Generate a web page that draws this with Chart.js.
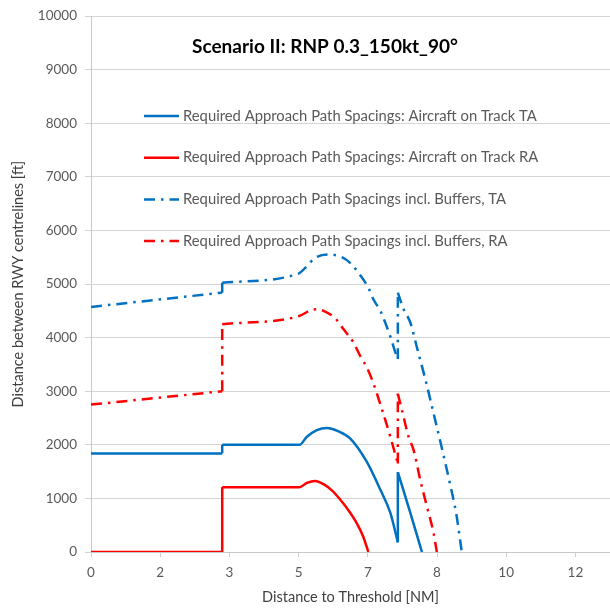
<!DOCTYPE html>
<html>
<head>
<meta charset="utf-8">
<script src="https://cdn.jsdelivr.net/npm/chart.js@4/dist/chart.umd.min.js"></script>
<style>
  html, body { margin: 0; padding: 0; background: #fff; }
  #wrap { width: 610px; height: 613px; }
</style>
</head>
<body>
<div id="wrap"><canvas id="spacingChart" width="610" height="613"></canvas></div>
<script>
// Values (x in NM, y in ft)
const chartTitle = 'Scenario II: RNP 0.3_150kt_90°';

const taTrackX = [0, 3.16, 3.16, 5.02, 5.20, 5.44, 5.68, 5.95, 6.24, 6.64, 6.97, 7.21, 7.39, 7.39, 7.68, 7.97];
const taTrackY = [1840, 1840, 2000, 2000, 2150, 2275, 2315, 2255, 2120, 1685, 1160, 730, 180, 1490, 760, 0];

const raTrackX = [0, 3.16, 3.16, 5.02, 5.20, 5.40, 5.60, 5.80, 6.00, 6.20, 6.40, 6.55, 6.68];
const raTrackY = [0, 0, 1210, 1210, 1290, 1327, 1265, 1150, 980, 780, 540, 300, 0];

const taBufX = [0, 3.16, 3.16, 5.00, 5.16, 5.40, 5.72, 6.04, 6.24, 6.47, 6.68, 6.80, 6.97, 7.10, 7.21, 7.33, 7.39,
                7.39, 7.53, 7.69, 7.87, 8.05, 8.25, 8.45, 8.65, 8.80, 8.93];
const taBufY = [4573, 4840, 5025, 5195, 5302, 5488, 5551, 5501, 5395, 5180, 4931, 4716, 4499, 4252, 4020, 3725, 3600,
                4840, 4530, 4282, 3757, 3232, 2590, 1940, 1260, 700, 0];

const raBufX = [0, 3.16, 3.16, 5.00, 5.32, 5.45, 5.60, 5.88, 6.08, 6.32, 6.48, 6.66, 6.80, 7.00, 7.21, 7.39,
                7.39, 7.49, 7.65, 7.77, 7.93, 8.09, 8.25, 8.33];
const raBufY = [2750, 3000, 4250, 4400, 4518, 4530, 4499, 4363, 4159, 3911, 3664, 3417, 3150, 2680, 2148, 1650,
                2954, 2644, 2148, 1902, 1345, 850, 356, 0];

const seriesLabels = [
    'Required Approach Path Spacings: Aircraft on Track TA',
    'Required Approach Path Spacings: Aircraft on Track RA',
    'Required Approach Path Spacings incl. Buffers, TA',
    'Required Approach Path Spacings incl. Buffers, RA'
];

const xTickStep = 5 / 3;   // grid spacing on the distance axis
const xMax = 12.5;
const yMax = 10000;

const blue = '#0070C0';
const red = '#FF0000';
const dashDot = [11, 6, 2.5, 6];

const series = [
    { label: seriesLabels[0], xs: taTrackX, ys: taTrackY, color: blue, dash: [] },
    { label: seriesLabels[1], xs: raTrackX, ys: raTrackY, color: red, dash: [] },
    { label: seriesLabels[2], xs: taBufX, ys: taBufY, color: blue, dash: dashDot },
    { label: seriesLabels[3], xs: raBufX, ys: raBufY, color: red, dash: dashDot }
];

// cut a series at its vertical jumps so the smooth curve doesn't bend around them
function splitPieces(xs, ys) {
    const pieces = [];
    let current = [{ x: xs[0], y: ys[0] }];
    for (let i = 1; i < xs.length; i++) {
        const pt = { x: xs[i], y: ys[i] };
        if (xs[i] === xs[i - 1]) {
            if (current.length > 1) pieces.push(current);
            pieces.push([current[current.length - 1], pt]);
            current = [pt];
        } else {
            current.push(pt);
        }
    }
    if (current.length > 1) pieces.push(current);
    return pieces;
}

const datasets = [];
series.forEach(function(s) {
    splitPieces(s.xs, s.ys).forEach(function(piece) {
        datasets.push({
            label: s.label,
            data: piece,
            showLine: true,
            pointRadius: 0,
            pointHoverRadius: 0,
            borderColor: s.color,
            backgroundColor: s.color,
            borderWidth: 2.5,
            borderDash: s.dash,
            borderCapStyle: 'butt',
            borderJoinStyle: 'round',
            cubicInterpolationMode: 'monotone'
        });
    });
});

// title and legend sit inside the plot area in the reference
const insideLegend = {
    id: 'insideLegend',
    afterDraw(chart) {
        const ctx = chart.ctx;
        ctx.save();
        ctx.fillStyle = '#000';
        ctx.font = 'bold 19px Lato';
        ctx.textAlign = 'center';
        ctx.textBaseline = 'middle';
        ctx.fillText(chartTitle, 325, 47);

        ctx.font = '14.8px Lato';
        ctx.textAlign = 'left';
        series.forEach(function(s, i) {
            const y = 116 + i * 41.7;
            ctx.strokeStyle = s.color;
            ctx.lineWidth = 2.5;
            ctx.setLineDash(s.dash);
            ctx.beginPath();
            ctx.moveTo(144, y);
            ctx.lineTo(179, y);
            ctx.stroke();
            ctx.setLineDash([]);
            ctx.fillStyle = '#595959';
            ctx.fillText(s.label, 183, y);
        });
        ctx.restore();
    }
};

const spacingCtx = document.getElementById('spacingChart');
new Chart(spacingCtx, {
    type: 'scatter',
    data: { datasets: datasets },
    options: {
        responsive: false,
        animation: false,
        devicePixelRatio: 1,
        layout: { padding: { top: 13, right: 0, left: 0, bottom: 0 } },
        plugins: {
            legend: { display: false },
            title: { display: false },
            tooltip: { enabled: false }
        },
        scales: {
            x: {
                type: 'linear',
                min: 0,
                max: xMax,
                afterBuildTicks: function(axis) {
                    const ticks = [];
                    for (let v = 0; v < xMax; v += xTickStep) ticks.push({ value: v });
                    axis.ticks = ticks;
                },
                afterFit: function(axis) { axis.height = 61; },
                ticks: {
                    color: '#595959',
                    font: { family: 'Lato', size: 13.5 },
                    padding: 8,
                    maxRotation: 0,
                    callback: v => Math.round(v)
                },
                grid: { drawOnChartArea: false, drawTicks: true, tickLength: 5, color: '#d0d0d0' },
                border: { display: true, color: '#c8c8c8' },
                title: {
                    display: true,
                    text: 'Distance to Threshold [NM]',
                    color: '#404040',
                    font: { family: 'Lato', size: 14.5 },
                    padding: { top: 0, bottom: 7 }
                }
            },
            y: {
                min: 0,
                max: yMax,
                afterFit: function(axis) { axis.width = 91; },
                ticks: {
                    stepSize: 1000,
                    color: '#595959',
                    font: { family: 'Lato', size: 13.5 },
                    padding: 8,
                    callback: v => String(v)
                },
                grid: { color: '#d4d4d4', tickLength: 6 },
                border: { display: true, color: '#c8c8c8' },
                title: {
                    display: true,
                    text: 'Distance between RWY centrelines [ft]',
                    color: '#404040',
                    font: { family: 'Lato', size: 14.5 },
                    padding: { top: 10, bottom: 0 }
                }
            }
        }
    },
    plugins: [insideLegend]
});
</script>
</body>
</html>
